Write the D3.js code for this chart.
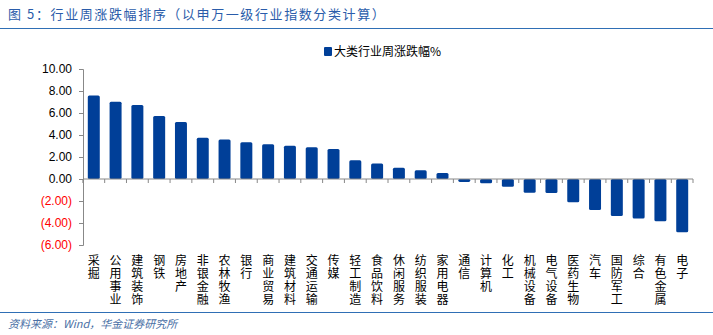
<!DOCTYPE html>
<html>
<head>
<meta charset="utf-8">
<script src="https://d3js.org/d3.v7.min.js"></script>
<style>
  body { margin: 0; background: #fff; }
  svg text { font-family: "Noto Sans CJK SC", "Liberation Sans", sans-serif; }
</style>
</head>
<body>
<script>
// industries, sorted by weekly change
var categories = ['采掘','公用事业','建筑装饰','钢铁','房地产','非银金融','农林牧渔','银行','商业贸易','建筑材料',
  '交通运输','传媒','轻工制造','食品饮料','休闲服务','纺织服装','家用电器','通信','计算机','化工',
  '机械设备','电气设备','医药生物','汽车','国防军工','综合','有色金属','电子'];
var values = [7.60, 7.03, 6.73, 5.73, 5.18, 3.76, 3.60, 3.33, 3.15, 3.03,
  2.88, 2.73, 1.70, 1.42, 1.03, 0.79, 0.55, -0.27, -0.39, -0.70,
  -1.24, -1.27, -2.12, -2.82, -3.36, -3.58, -3.85, -4.85];
var yTicks = [-6, -4, -2, 0, 2, 4, 6, 8, 10];
var seriesName = '大类行业周涨跌幅%';

var W = 713, H = 335;
var svg = d3.select('body').append('svg').attr('width', W).attr('height', H);

// header + footer
svg.append('text').attr('x', 8).attr('y', 19)
  .attr('fill', '#2a5caa').style('font-size', '13px').style('letter-spacing', '1.6px')
  .text('图 5：行业周涨跌幅排序（以申万一级行业指数分类计算）');
svg.append('line').attr('x1', 0).attr('x2', W).attr('y1', 28.5).attr('y2', 28.5)
  .attr('stroke', '#2f6fb5').attr('stroke-width', 1.2);
svg.append('line').attr('x1', 0).attr('x2', W).attr('y1', 312.5).attr('y2', 312.5)
  .attr('stroke', '#2f6fb5').attr('stroke-width', 1.2);
svg.append('text').attr('x', 8).attr('y', 328)
  .attr('fill', '#4a6fa5').style('font-size', '11px').style('font-style', 'italic')
  .text('资料来源：Wind，华金证券研究所');

var x = d3.scaleBand().domain(categories).range([83, 693]).paddingInner(0.45).paddingOuter(0.22);
var y = d3.scaleLinear().domain([-6, 10]).range([245, 69]);

var barColor = '#003f98';

// y axis
var fmt = function(d) {
  var s = Math.abs(d).toFixed(2);
  return d < 0 ? '(' + s + ')' : s;
};
var ya = svg.append('g').attr('transform', 'translate(83,0)')
  .call(d3.axisLeft(y).tickValues(yTicks).tickSize(4).tickPadding(7).tickFormat(fmt));
ya.select('.domain').attr('stroke', '#888');
ya.selectAll('.tick line').attr('stroke', '#888');
ya.selectAll('.tick text')
  .style('font-family', '"Liberation Sans", Arial, sans-serif')
  .style('font-size', '12px')
  .attr('fill', function(d) { return d < 0 ? '#ff0000' : '#000'; });

// bars
svg.append('g').selectAll('rect').data(values).enter().append('rect')
  .attr('x', function(d, i) { return x(categories[i]); })
  .attr('width', x.bandwidth())
  .attr('y', function(d) { return d >= 0 ? y(d) : y(0); })
  .attr('height', function(d) { return Math.abs(y(d) - y(0)); })
  .attr('rx', 1.5)
  .attr('fill', barColor);

// zero line with category ticks
var step = x.step();
var xa = svg.append('g').attr('transform', 'translate(0,' + y(0) + ')');
xa.append('line').attr('x1', 83).attr('x2', 693).attr('stroke', '#888');
xa.selectAll('line.tk').data(d3.range(categories.length + 1)).enter().append('line')
  .attr('class', 'tk')
  .attr('x1', function(i) { return i === categories.length ? 693 : x(categories[i]) - x.paddingInner() * step / 2; })
  .attr('x2', function(i) { return i === categories.length ? 693 : x(categories[i]) - x.paddingInner() * step / 2; })
  .attr('y1', 0).attr('y2', 4).attr('stroke', '#888');

// vertical category labels (one text each, stacked top to bottom)
svg.append('g').selectAll('text').data(categories).enter().append('text')
  .attr('x', function(c) { return x(c) + x.bandwidth() / 2; })
  .attr('y', 254)
  .style('writing-mode', 'vertical-rl')
  .style('text-orientation', 'upright')
  .style('font-size', '12px')
  .style('letter-spacing', '1px')
  .attr('fill', '#000')
  .text(function(c) { return c; });

// legend
svg.append('rect').attr('x', 324).attr('y', 47).attr('width', 8).attr('height', 9).attr('fill', barColor).attr('rx', 1);
svg.append('text').attr('x', 334).attr('y', 56).style('font-size', '12px').attr('fill', '#000').text(seriesName);
</script>
</body>
</html>
